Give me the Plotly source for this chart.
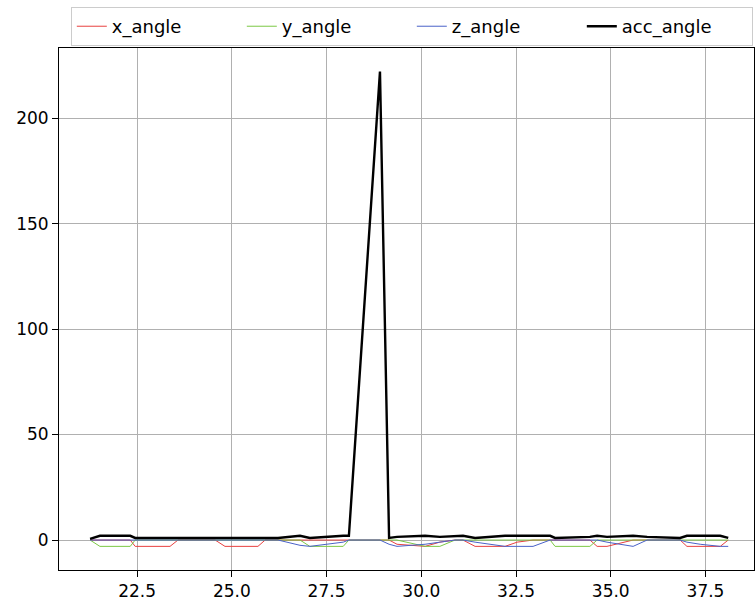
import plotly.graph_objects as go

# time stamps (x axis)
t = [21.26, 21.52, 22.32, 22.45, 23.37, 23.58, 24.56, 24.82, 25.69, 25.88,
     26.22, 26.80, 27.06, 27.94, 28.09, 28.91, 29.15, 29.36, 30.10, 30.49,
     30.89, 31.10, 31.42, 32.21, 32.53, 32.95, 33.40, 33.53, 34.45, 34.64,
     34.90, 35.59, 35.96, 36.83, 37.01, 37.36, 37.89, 38.10]

acc_angle = [0.5, 2, 2, 1, 1, 1, 1, 1, 1, 1,
             1, 2, 1, 2, 2, 222, 1, 1.5, 2, 1.5,
             2, 2, 1, 2, 2, 2, 2, 1, 1.5, 2,
             1.5, 2, 1.5, 1, 2, 2, 2, 1]
x_angle = [0, 0, 0, -3, -3, 0, 0, -3, -3, 0,
           0, 0, 0, 0, 0, 0, 0, -2, -3, -1,
           0, 0, -3, -3, -1, 0, 0, 0, 0, -3,
           -3, 0, 0, 0, -3, -3, -3, 0]
y_angle = [0, -3, -3, 0, 0, 0, 0, 0, 0, 0,
           0, 0, -3, -3, 0, 0, 0, 0, -3, -3,
           0, 0, 0, 0, 0, 0, 0, -3, -3, 0,
           0, 0, 0, 0, 0, 0, 0, 0]
z_angle = [0, 0, 0, 0, 0, 0, 0, 0, 0, 0,
           0, -2.5, -3, -1, 0, 0, -2, -3, -2, -1,
           0, 0, -1, -3, -3, -3, 0, 0, 0, 0,
           -1, -3, 0, 0, -1, -2, -3, -3]

x_ticks = [22.5, 25.0, 27.5, 30.0, 32.5, 35.0, 37.5]
y_ticks = [0, 50, 100, 150, 200]

fig = go.Figure()
fig.add_trace(go.Scatter(x=t, y=x_angle, mode="lines", name="x_angle",
                         line=dict(color="#e8403f", width=1)))
fig.add_trace(go.Scatter(x=t, y=y_angle, mode="lines", name="y_angle",
                         line=dict(color="#7cc845", width=1)))
fig.add_trace(go.Scatter(x=t, y=z_angle, mode="lines", name="z_angle",
                         line=dict(color="#4a62c8", width=1)))
fig.add_trace(go.Scatter(x=t, y=acc_angle, mode="lines", name="acc_angle",
                         line=dict(color="black", width=2.4)))

axis_common = dict(showline=True, mirror=True, linecolor="black", linewidth=1,
                   ticks="outside", ticklen=6, tickcolor="black", tickwidth=1,
                   showgrid=True, gridcolor="#b0b0b0", gridwidth=1,
                   zeroline=False, tickfont=dict(size=17, color="black"))

fig.update_layout(
    width=755, height=604,
    margin=dict(l=59, r=1, t=48, b=34),
    paper_bgcolor="white", plot_bgcolor="white",
    font=dict(family="DejaVu Sans", size=17, color="black"),
    showlegend=True,
    legend=dict(orientation="h", x=0.017, xanchor="left", y=1.0785, yanchor="top",
                bordercolor="#cccccc", borderwidth=1, bgcolor="white",
                entrywidth=125, entrywidthmode="pixels",
                font=dict(size=18)),
    xaxis=dict(range=[20.44, 38.78], tickvals=x_ticks,
               ticktext=[f"{v:.1f}" for v in x_ticks], **axis_common),
    yaxis=dict(range=[-14.2, 233.2], tickvals=y_ticks, **axis_common),
)

fig.write_html("out.html")
